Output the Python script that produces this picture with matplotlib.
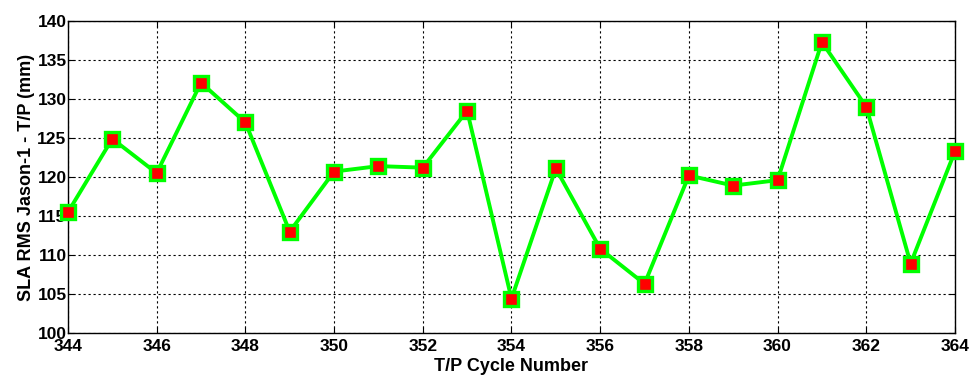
import matplotlib
matplotlib.use('Agg')
import matplotlib.pyplot as plt
import numpy as np

# SLA RMS differences Jason-1 minus T/P per cycle
cycles = [344, 345, 346, 347, 348, 349, 350, 351, 352, 353, 354,
          355, 356, 357, 358, 359, 360, 361, 362, 363, 364]
sla_rms = [115.5, 124.9, 120.5, 132.1, 127.0, 113.0, 120.7, 121.4, 121.2, 128.5, 104.4,
           121.1, 110.8, 106.3, 120.2, 118.9, 119.6, 137.3, 129.0, 108.9, 123.3]
xticks = list(range(344, 365, 2))
yticks = list(range(100, 141, 5))

plt.rcParams['font.family'] = ['Liberation Sans', 'DejaVu Sans']
plt.rcParams['font.weight'] = 'bold'

fig = plt.figure(figsize=(9.71, 3.76), dpi=100)
ax = fig.add_axes([0.070, 0.1144, 0.9135, 0.8296])

ax.plot(cycles, sla_rms, color='#00ff00', linewidth=2.8, marker='s',
        markersize=9.5, markerfacecolor='red', markeredgecolor='#00ff00',
        markeredgewidth=2.4, zorder=3, clip_on=False)

ax.set_xlim(344, 364)
ax.set_ylim(100, 140)
ax.set_xticks(xticks)
ax.set_yticks(yticks)
ax.grid(True, color='black', linestyle=(0, (2, 2.5)), linewidth=0.8)
ax.tick_params(direction='in', top=True, right=True, labelsize=12.5, length=4)
ax.tick_params(axis='y', pad=1)
ax.tick_params(axis='x', pad=4)
for lab in ax.get_xticklabels() + ax.get_yticklabels():
    lab.set_fontweight('bold')
for s in ax.spines.values():
    s.set_linewidth(1.0)

ax.set_xlabel('T/P Cycle Number', fontsize=13, fontweight='bold', labelpad=3)
ax.set_ylabel('SLA RMS Jason-1 - T/P (mm)', fontsize=13, fontweight='bold', labelpad=2)

fig.savefig('out.png', dpi=100)
